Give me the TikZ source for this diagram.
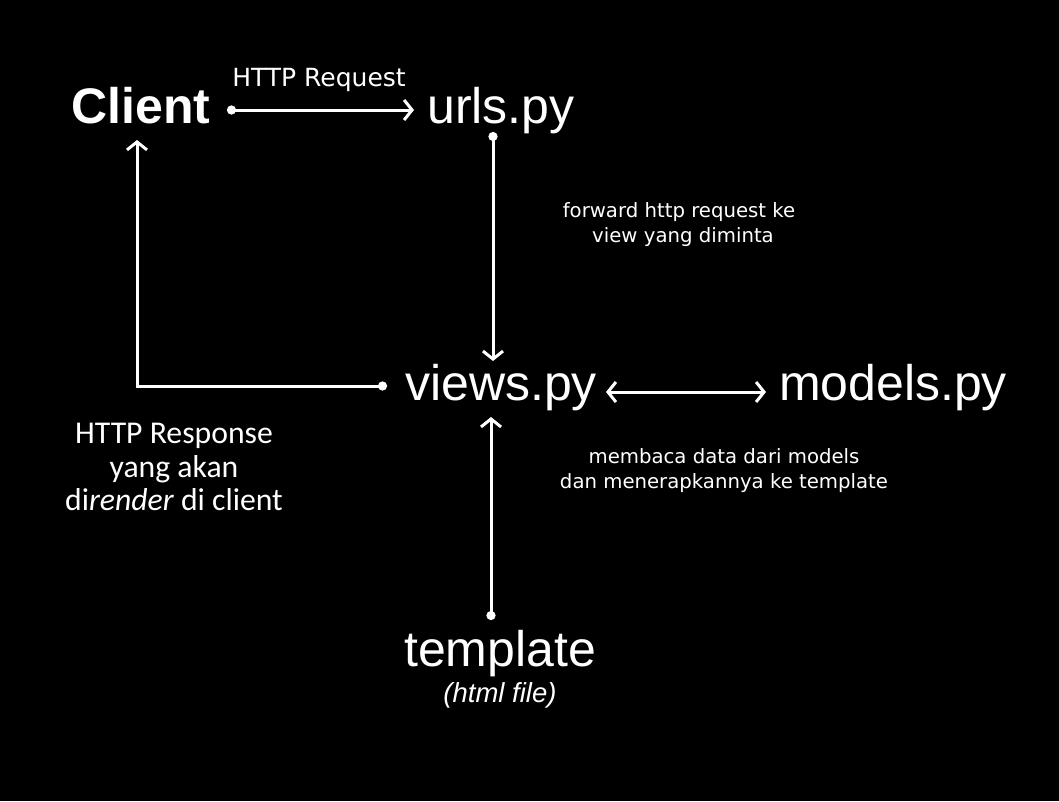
\documentclass[tikz,border=0pt]{standalone}
\usepackage{fontspec}
\setmainfont{Liberation Sans}
\newfontfamily\smallfont{DejaVu Sans}
\newfontfamily\respfont{Carlito}
\usetikzlibrary{arrows.meta}
\tikzset{
  big/.style={text=white, inner sep=0pt, anchor=base, font=\fontsize{50}{60}\selectfont},
  note/.style={text=white, inner sep=0pt, anchor=base, font=\smallfont\fontsize{19.7}{26}\selectfont},
  resp/.style={text=white, inner sep=0pt, anchor=base, font=\respfont\fontsize{31.7}{33}\selectfont},
  conn/.style={draw=white, line width=3pt},
  dotstart/.style={{Circle[length=9pt,width=9pt]}-{Straight Barb[length=8pt,width=20pt,line width=3pt]}},
  both/.style={{Straight Barb[length=8pt,width=20pt,line width=3pt]}-{Straight Barb[length=8pt,width=20pt,line width=3pt]}}
}
\begin{document}
\begin{tikzpicture}[x=1pt,y=-1pt]
\fill[black] (0,0) rectangle (1059,801);
\useasboundingbox (0,0) rectangle (1059,801);

\node[big, font=\bfseries\fontsize{50}{60}\selectfont] (client) at (141,123) {Client};
\node[big] (urls) at (501,123) {urls.py};
\node[big] (views) at (501,400) {views.py};
\node[big] (models) at (893,400) {models.py};
\node[big] (template) at (500,666) {template};
\node[text=white, inner sep=0pt, anchor=base, font=\itshape\fontsize{27.5}{33}\selectfont] (html) at (500,702) {(html file)};

\node[text=white, inner sep=0pt, anchor=base, font=\smallfont\fontsize{25}{28}\selectfont] (req) at (319,86) {HTTP Request};
\node[note] (fwd1) at (679,217) {forward http request ke};
\node[note] (fwd2) at (683,242) {view yang diminta};
\node[note] (mem1) at (724,463) {membaca data dari models};
\node[note] (mem2) at (724,488) {dan menerapkannya ke template};

\node[resp] (resp1) at (174,443) {HTTP Response};
\node[resp] (resp2) at (174,477) {yang akan};
\node[resp] (resp3) at (174,510) {di\textit{render} di client};

\coordinate (cA) at (227,110);
\coordinate (cB) at (414,110);
\coordinate (uA) at (493,132);
\coordinate (uB) at (493,361);
\coordinate (vA) at (387,386);
\coordinate (vC) at (137,386);
\coordinate (vB) at (137,140);
\coordinate (mA) at (606,392);
\coordinate (mB) at (766,392);
\coordinate (tA) at (491,620);
\coordinate (tB) at (491,417);

\draw[conn, dotstart] (cA) -- (cB);
\draw[conn, dotstart] (uA) -- (uB);
\draw[conn, dotstart] (vA) -- (vC) -- (vB);
\draw[conn, both] (mA) -- (mB);
\draw[conn, dotstart] (tA) -- (tB);
\end{tikzpicture}
\end{document}
